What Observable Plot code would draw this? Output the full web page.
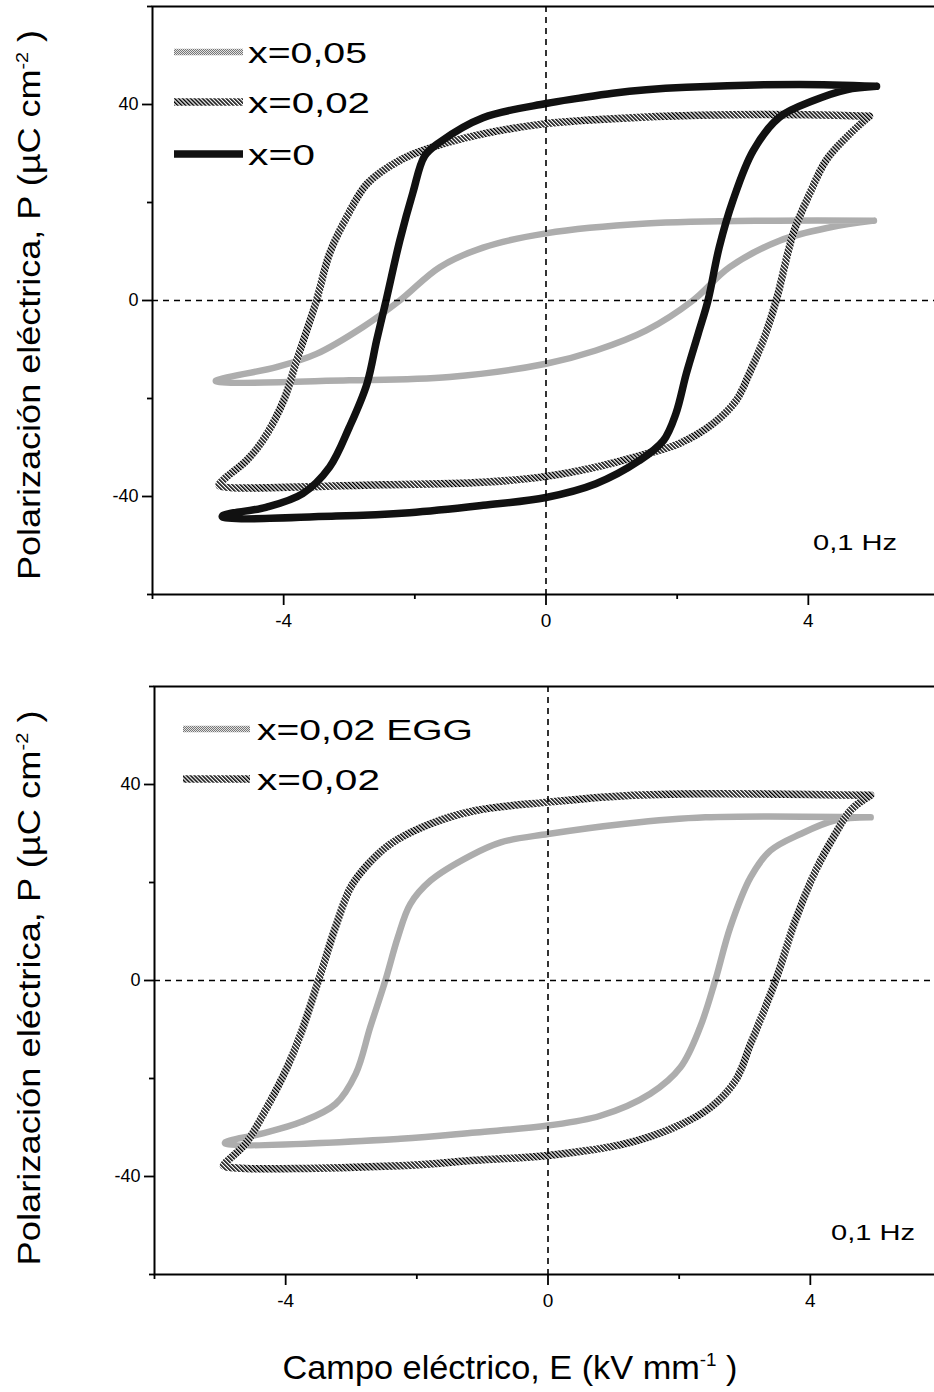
<!DOCTYPE html>
<html>
<head>
<meta charset="utf-8">
<script src="https://cdn.jsdelivr.net/npm/d3@7"></script>
<script src="https://cdn.jsdelivr.net/npm/@observablehq/plot@0.6"></script>
<style>
  html, body { margin: 0; padding: 0; background: #fff; overflow: hidden; }
  #fig { position: relative; width: 934px; height: 1392px; overflow: hidden; background: #fff;
         font-family: "Liberation Sans", Arial, sans-serif; }
  #fig > svg { position: absolute; left: 0; max-width: none !important; }
</style>
</head>
<body>
<div id="fig"></div>
<script>
// ---- Axis ticks and labels ----
const xTicks = [-4, 0, 4];
const xMinorTicks = [-6, -2, 2, 6];
const yTicks = [-40, 0, 40];
const yMinorTicks = [-60, -20, 20, 60];
const xTitle = "Campo eléctrico, E (kV mm";
const xTitleSup = "-1";
const yTitle = "Polarización eléctrica, P (µC cm";
const yTitleSup = "-2";
const freqLabel = "0,1 Hz";

// ---- Upper panel: composition series ----
const topSeries = ["x=0,05", "x=0,02", "x=0"];

// x=0,05 loop (descending branch, then ascending branch)
const x005E = [5.0, 3.5, 1.53, 0, -0.96, -1.62, -2.23, -2.79, -3.5, -4.11, -5.03,
               -5.03, -3.0, -1.47, 0, 0.76, 1.53, 2.24, 2.8, 3.56, 4.32, 5.0];
const x005P = [16.3, 16.3, 15.7, 13.7, 10.8, 6.8, 0, -5.4, -10.9, -13.6, -16.3,
               -16.5, -16.3, -15.6, -12.9, -10.2, -6.1, 0, 6.8, 12.2, 14.9, 16.3];

// x=0,02 loop
const x002E = [4.93, 4.0, 2.34, 1.02, 0, -0.96, -1.73, -2.23, -2.73, -3.04, -3.3, -3.5, -3.8, -4.0, -4.32, -4.57, -4.87, -4.98,
               -4.98, -2.49, -0.96, 0, 0.76, 1.53, 2.03, 2.55, 2.9, 3.1, 3.31, 3.51, 3.77, 4.02, 4.27, 4.58, 4.93];
const x002P = [37.6, 37.9, 37.8, 37.1, 36.1, 34.0, 31.3, 28.6, 23.8, 17.0, 9.6, 0, -12.2, -20.4, -28.6, -32.7, -36.0, -37.4,
               -37.8, -37.6, -37.1, -35.9, -34.0, -31.3, -29.2, -25.1, -20.4, -14.9, -8.2, 0, 13.7, 21.8, 28.6, 33.3, 37.6];

// x=0 loop
const x0E = [5.04, 3.86, 2.14, 1.53, 1.02, 0.51, 0, -0.96, -1.62, -1.85, -2.03, -2.23, -2.43, -2.58, -2.73, -3.0, -3.3, -3.71, -4.27, -4.93,
             -4.93, -3.2, -2.08, -0.96, 0, 0.76, 1.42, 1.79, 1.98, 2.14, 2.32, 2.47, 2.64, 2.85, 3.16, 3.56, 4.08, 4.58, 5.04];
const x0P = [43.7, 44.1, 43.5, 43.0, 42.3, 41.3, 40.2, 37.3, 32.3, 29.5, 22.0, 12.2, 0.5, -8.0, -17.0, -25.9, -34.0, -39.4, -42.2, -43.9,
             -44.2, -44.0, -43.3, -41.8, -40.2, -37.4, -32.7, -28.6, -23.1, -14.9, -6.8, 0, 10.8, 20.4, 30.6, 37.4, 40.8, 43.0, 43.7];

// ---- Lower panel: processing comparison ----
const bottomSeries = ["x=0,02 EGG", "x=0,02"];

// x=0,02 EGG loop
const eggE = [4.92, 2.4, 1.18, 0, -0.72, -1.18, -1.79, -2.1, -2.29, -2.48, -2.71, -2.93, -3.24, -3.77, -4.38, -4.92,
              -4.92, -2.25, -1.1, 0, 0.8, 1.56, 2.02, 2.32, 2.55, 2.78, 3.09, 3.39, 3.85, 4.38, 4.92];
const eggP = [33.3, 33.3, 32.0, 29.9, 28.2, 25.5, 20.4, 15.6, 8.8, 0, -9.5, -19.0, -25.2, -28.9, -31.3, -33.0,
              -33.3, -32.3, -31.0, -29.6, -27.6, -23.1, -17.7, -9.5, 0, 10.9, 21.1, 26.5, 29.9, 32.7, 33.3];

// x=0,02 loop (conventional)
const convE = [4.92, 2.4, 1.18, 0, -1.1, -1.79, -2.4, -2.74, -3.01, -3.24, -3.5, -3.77, -4.0, -4.31, -4.61, -4.92,
               -4.95, -2.25, -1.1, 0, 1.18, 1.94, 2.48, 2.86, 3.09, 3.47, 3.77, 4.08, 4.38, 4.61, 4.92];
const convP = [37.8, 38.1, 37.7, 36.4, 34.7, 32.0, 27.9, 23.8, 19.0, 10.9, 0, -10.9, -18.4, -26.5, -33.3, -37.2,
               -37.8, -37.8, -36.7, -35.7, -33.3, -29.9, -25.9, -20.4, -12.9, 0, 12.2, 22.4, 29.9, 34.7, 37.8];

// ---- Helpers ----
const rows = (E, P) => E.map((e, i) => ({E: e, P: P[i]}));
const FONT = '"Liberation Sans", Arial, sans-serif';
const NS = "http://www.w3.org/2000/svg";

const styles = {
  dots:  {stroke: "url(#dots)",  strokeWidth: 6.5},
  hatch: {stroke: "url(#hatch)", strokeWidth: 7.5},
  solid: {stroke: "#111",        strokeWidth: 7.5}
};

function panel({top, left, loops}) {
  const plotW = 787; // twelve field units
  const chart = Plot.plot({
    width: left + plotW + 2,
    height: 640,
    marginLeft: left,
    marginRight: 2,
    marginTop: 6,
    marginBottom: 46,
    x: {domain: [-6, 6]},
    y: {domain: [-60, 60]},
    style: {fontFamily: FONT, color: "#000", background: "transparent", maxWidth: "none"},
    marks: [
      ...loops.map(l => Plot.line(rows(l.E, l.P), {
        x: "E", y: "P", ...styles[l.style], curve: "catmull-rom",
        strokeLinecap: "round", strokeLinejoin: "round"
      })),
      Plot.ruleX([0], {stroke: "#000", strokeWidth: 1.6, strokeDasharray: "6,5"}),
      Plot.ruleY([0], {stroke: "#000", strokeWidth: 1.6, strokeDasharray: "6,5"}),
      Plot.frame({stroke: "#000", strokeWidth: 2}),
      Plot.axisX(xTicks, {tickSize: 11, tickPadding: 8, strokeWidth: 1.8, fontSize: 19,
                          tickFormat: d => String(d), label: null}),
      Plot.axisX(xMinorTicks, {tickSize: 5, strokeWidth: 1.8, tickFormat: () => "", label: null}),
      Plot.axisY(yTicks, {tickSize: 10, tickPadding: 4, strokeWidth: 1.8, fontSize: 18,
                          tickFormat: d => String(d), label: null}),
      Plot.axisY(yMinorTicks, {tickSize: 5, strokeWidth: 1.8, tickFormat: () => "", label: null})
    ]
  });
  chart.style.top = top + "px";
  return chart;
}

const fig = document.getElementById("fig");

fig.appendChild(panel({
  top: 0, left: 152,
  loops: [
    {E: x005E, P: x005P, style: "dots"},
    {E: x002E, P: x002P, style: "hatch"},
    {E: x0E,   P: x0P,   style: "solid"}
  ]
}));

fig.appendChild(panel({
  top: 680, left: 154,
  loops: [
    {E: eggE,  P: eggP,  style: "dots"},
    {E: convE, P: convP, style: "hatch"}
  ]
}));

// ---- Overlay: stroke patterns, legends, titles, frequency labels ----
const over = d3.select(fig).append("svg")
  .attr("xmlns", NS)
  .attr("width", 934).attr("height", 1392)
  .style("top", "0px")
  .style("pointer-events", "none")
  .style("font-family", FONT);

const defs = over.append("defs");
const hatch = defs.append("pattern").attr("id", "hatch")
  .attr("patternUnits", "userSpaceOnUse").attr("width", 2.8).attr("height", 2.8)
  .attr("patternTransform", "rotate(-45)");
hatch.append("rect").attr("width", 2.8).attr("height", 2.8).attr("fill", "#fff");
hatch.append("rect").attr("width", 1.5).attr("height", 2.8).attr("fill", "#000");

const dots = defs.append("pattern").attr("id", "dots")
  .attr("patternUnits", "userSpaceOnUse").attr("width", 2).attr("height", 2);
dots.append("rect").attr("width", 2).attr("height", 2).attr("fill", "#e2e2e2");
dots.append("rect").attr("width", 1).attr("height", 1).attr("fill", "#777");
dots.append("rect").attr("x", 1).attr("y", 1).attr("width", 1).attr("height", 1).attr("fill", "#777");

function legend(entries, x0, x1, tx, ys, lengths, kinds) {
  entries.forEach((label, i) => {
    const s = styles[kinds[i]];
    over.append("line")
      .attr("x1", x0).attr("x2", x1).attr("y1", ys[i]).attr("y2", ys[i])
      .attr("stroke", s.stroke).attr("stroke-width", s.strokeWidth);
    over.append("text")
      .attr("x", tx).attr("y", ys[i] + 11)
      .attr("font-size", 29)
      .attr("textLength", lengths[i]).attr("lengthAdjust", "spacingAndGlyphs")
      .text(label);
  });
}

legend(topSeries, 174, 243, 248, [52, 102, 154], [119, 122, 67], ["dots", "hatch", "solid"]);
legend(bottomSeries, 183, 250, 257, [729, 779], [216, 123], ["dots", "hatch"]);

// frequency notes
[[813, 550], [831, 1240]].forEach(([x, y]) => {
  over.append("text").attr("x", x).attr("y", y)
    .attr("font-size", 22).attr("textLength", 84).attr("lengthAdjust", "spacingAndGlyphs")
    .text(freqLabel);
});

// superscripted unit in a title
function titleWithSup(g, base, sup, size) {
  g.append("tspan").text(base);
  g.append("tspan").attr("font-size", size * 0.55).attr("dy", -size * 0.4).text(sup);
  g.append("tspan").attr("dy", size * 0.4).text(" )");
}

// y titles, one per panel
[[305, 550], [988, 555]].forEach(([cy, len]) => {
  const t = over.append("text")
    .attr("transform", `translate(40,${cy}) rotate(-90)`)
    .attr("text-anchor", "middle")
    .attr("font-size", 31)
    .attr("textLength", len).attr("lengthAdjust", "spacingAndGlyphs");
  titleWithSup(t, yTitle, yTitleSup, 31);
});

// shared x title
const xt = over.append("text")
  .attr("x", 510).attr("y", 1379)
  .attr("text-anchor", "middle")
  .attr("font-size", 33)
  .attr("textLength", 455).attr("lengthAdjust", "spacingAndGlyphs");
titleWithSup(xt, xTitle, xTitleSup, 33);
</script>
</body>
</html>
